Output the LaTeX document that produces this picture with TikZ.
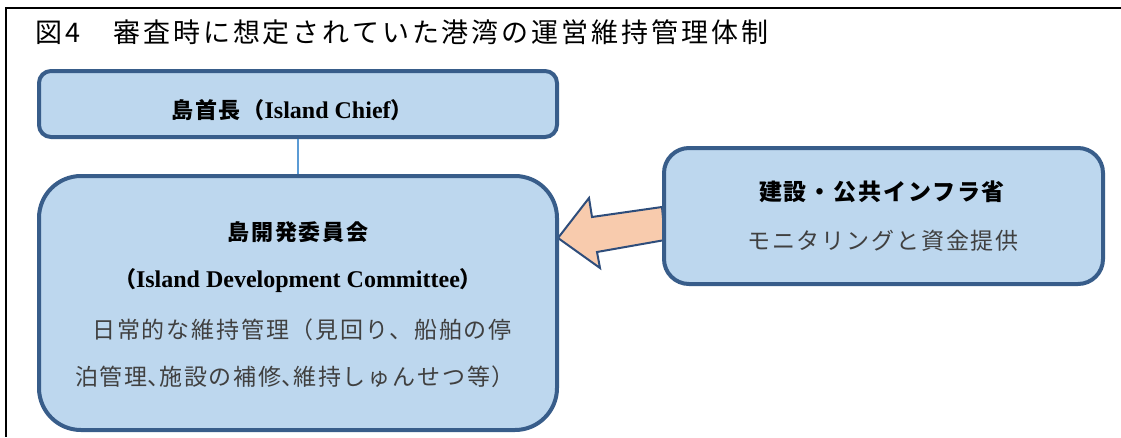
\documentclass[tikz,border=0pt]{standalone}
\usepackage{fontspec}
\setmainfont{Liberation Serif}
\newfontfamily\jp{Noto Sans CJK JP}
\definecolor{boxline}{RGB}{56,93,138}
\definecolor{boxfill}{RGB}{189,215,238}
\definecolor{arrowfill}{RGB}{248,203,173}
\definecolor{arrowline}{RGB}{46,77,123}
\definecolor{linkline}{RGB}{91,155,213}
\definecolor{bodygray}{RGB}{64,64,64}
\newcommand\jb[1]{{\jp\fontsize{22}{26}\selectfont\addfontfeature{LetterSpace=8}#1}}
\newcommand\jr[1]{{\jp\fontsize{23}{26}\selectfont\addfontfeature{LetterSpace=8}#1}}
\newcommand\hc{{\addfontfeature{RawFeature=+halt}、}}
\begin{document}
\begin{tikzpicture}[x=1pt,y=-1pt,
  box/.style={draw=boxline, fill=boxfill, line width=4pt, rectangle, inner sep=0pt},
  hd/.style={font=\fontsize{24}{28}\selectfont\bfseries, text=black, inner sep=0pt},
  bd/.style={text=bodygray, inner sep=0pt},
  ttl/.style={font=\jp\fontsize{27}{30}\selectfont\addfontfeature{LetterSpace=11}, text=black, inner sep=0pt, anchor=west}]
\useasboundingbox (0,0) rectangle (1121,437);
% frame
\draw[line width=2.5pt] (5,8) -- (1121,8);
\draw[line width=2.5pt] (6,8) -- (6,437);
% title
\node[ttl] (title) at (35,32) {図\hspace{3pt}4　審査時に想定されていた港湾の運営維持管理体制};
% arrow
\draw[fill=arrowfill, draw=arrowline, line width=2pt, line join=miter]
  (558,238) -- (589,198) -- (592,217) -- (662,207) -- (665,240) -- (597,252) -- (600,268) -- cycle;
% boxes
\node[box, minimum width=518, minimum height=66, rounded corners=12] (chief) at (298,104) {};
\node[box, minimum width=518, minimum height=254, rounded corners=42] (idc) at (298,303) {};
\node[box, minimum width=439, minimum height=136, rounded corners=25] (moi) at (883.5,216) {};
% connector
\draw[draw=linkline, line width=1.5pt] (chief.south) -- (idc.north);
% texts
\node[hd] (chieft) at (292,110) {\jb{島首長（}Island Chief\jb{）}};
\node[hd] (idct1) at (298,232) {\jb{島開発委員会}};
\node[hd] (idct2) at (298,281) {\jb{（}Island Development Committee\jb{）}};
\node[bd] (idct3) at (302,330) {\jr{日常的な維持管理（見回り、船舶の停}};
\node[bd] (idct4) at (295,377) {\jr{泊管理\hc 施設の補修\hc 維持しゅんせつ等）}};
\node[hd] (moit1) at (882,192) {{\jp\fontsize{23}{26}\selectfont\addfontfeature{LetterSpace=8}建設・公共インフラ省}};
\node[bd] (moit2) at (883,241) {\jr{モニタリングと資金提供}};
\end{tikzpicture}
\end{document}
